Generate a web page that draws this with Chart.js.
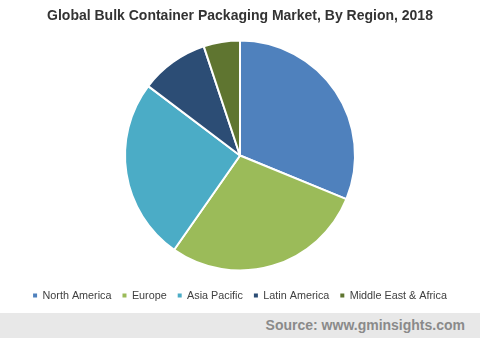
<!DOCTYPE html>
<html>
<head>
<meta charset="utf-8">
<script src="https://cdn.jsdelivr.net/npm/chart.js@4"></script>
<style>
  html, body { margin: 0; padding: 0; background: #fff; }
  #wrap { width: 480px; height: 313px; position: relative; }
  #source {
    width: 480px; height: 25px; background: #e8e8e8;
    font: bold 14px "Liberation Sans", Arial, sans-serif; color: #8a8a8a;
    text-align: right; box-sizing: border-box; padding-right: 15px; line-height: 25px;
  }
</style>
</head>
<body>
<div id="wrap"><canvas id="grafico" width="480" height="313"></canvas></div>
<div id="source">Source: www.gminsights.com</div>
<script>
const regiones = ["North America", "Europe", "Asia Pacific", "Latin America", "Middle East & Africa"];
const cuotas = [31.2, 28.5, 25.6, 9.6, 5.1];
const colores = ["#4f81bd", "#9bbb59", "#4bacc6", "#2c4d75", "#5f7530"];

const ctx = document.getElementById("grafico").getContext("2d");
new Chart(ctx, {
  type: "pie",
  data: {
    labels: regiones,
    datasets: [{
      data: cuotas,
      backgroundColor: colores,
      borderColor: "#ffffff",
      borderWidth: 2
    }]
  },
  options: {
    responsive: false,
    animation: false,
    radius: 115,
    layout: { padding: { top: 0, bottom: 2 } },
    plugins: {
      title: {
        display: true,
        text: "Global Bulk Container Packaging Market, By Region, 2018",
        color: "#333333",
        font: { family: "'Liberation Sans', Arial, sans-serif", size: 14, weight: "bold" },
        padding: { top: 8, bottom: 7 }
      },
      legend: {
        position: "bottom",
        labels: {
          color: "#404040",
          font: { family: "'Liberation Sans', Arial, sans-serif", size: 10.8 },
          usePointStyle: true,
          pointStyle: "rect",
          pointStyleWidth: 4,
          boxWidth: 4,
          boxHeight: 4,
          padding: 11,
          generateLabels: (chart) =>
            Chart.overrides.pie.plugins.legend.labels.generateLabels(chart)
              .map(l => ({ ...l, lineWidth: 0, strokeStyle: l.fillStyle }))
        }
      },
      tooltip: { enabled: false }
    }
  }
});
</script>
</body>
</html>
